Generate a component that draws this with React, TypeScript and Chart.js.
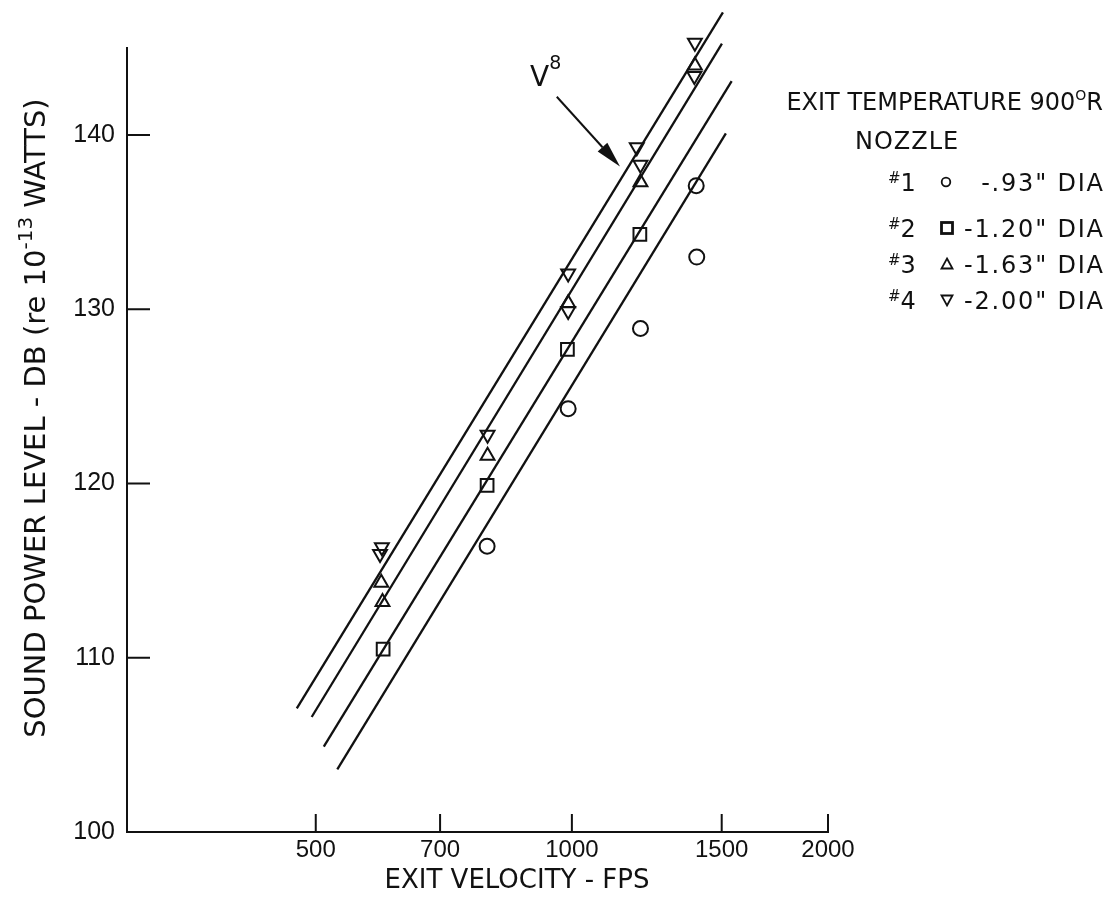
import React, { useEffect, useRef } from 'react';
import { Chart, registerables } from 'chart.js';

Chart.register(...registerables);

// ---- axis ticks ----
const xTickValues = [500, 700, 1000, 1500, 2000];
const yTickValues = [100, 110, 120, 130, 140];

// ---- measured points (exit velocity fps, sound power level dB) ----
const nozzle1Velocity = [795, 990, 1204, 1400, 1402];
const nozzle1Level = [116.4, 124.3, 128.9, 137.1, 133.0];

const nozzle2Velocity = [600, 795, 988, 1202];
const nozzle2Level = [110.5, 119.9, 127.7, 134.3];

const nozzle3Velocity = [597, 599, 796, 990, 1204, 1395];
const nozzle3Level = [114.3, 113.2, 121.6, 130.35, 137.3, 144.0];

const nozzle4Velocity = [598, 595, 796, 990, 990, 1192, 1204, 1395, 1393];
const nozzle4Level = [116.35, 115.95, 122.8, 132.05, 129.9, 139.3, 138.3, 145.3, 143.4];

// ---- V^8 fit lines: [start, end] ----
const fitVelocity = [
  [475, 1505],
  [494.5, 1501],
  [511, 1541],
  [530, 1517],
];
const fitLevel = [
  [107.1, 147.05],
  [106.6, 145.25],
  [104.9, 143.1],
  [103.6, 140.1],
];

// ---- annotation (arrow to V^8 line) ----
const arrowTail = { x: 960, y: 142.2 };
const arrowTip = { x: 1139, y: 138.2 };
const arrowLabelAt = { x: 920, y: 143.4 };

const legendRows = [
  { num: '1', text: '-.93" DIA' },
  { num: '2', text: '-1.20" DIA' },
  { num: '3', text: '-1.63" DIA' },
  { num: '4', text: '-2.00" DIA' },
];

const INK = '#111';
const TEXT_FAMILY = '"DejaVu Sans", sans-serif';
const NUM_FAMILY = '"Liberation Sans", Arial, sans-serif';

const pts = (xs: number[], ys: number[]) => xs.map((x, i) => ({ x, y: ys[i] }));

type Run = { t: string; size: number; dy?: number; sp?: number };

function runWidth(ctx: CanvasRenderingContext2D, r: Run) {
  ctx.font = `${r.size}px ${TEXT_FAMILY}`;
  if (!r.sp) return ctx.measureText(r.t).width;
  let w = 0;
  for (const ch of r.t) w += ctx.measureText(ch).width + r.sp;
  return w - r.sp;
}

function drawRuns(ctx: CanvasRenderingContext2D, runs: Run[], x: number, baseY: number, align: 'left' | 'right' | 'center') {
  let total = 0;
  const widths = runs.map((r) => {
    const w = runWidth(ctx, r);
    total += w;
    return w;
  });
  let cx = align === 'left' ? x : align === 'right' ? x - total : x - total / 2;
  ctx.textAlign = 'left';
  ctx.textBaseline = 'alphabetic';
  runs.forEach((r, i) => {
    ctx.font = `${r.size}px ${TEXT_FAMILY}`;
    const y = baseY + (r.dy || 0);
    if (!r.sp) {
      ctx.fillText(r.t, cx, y);
    } else {
      let px = cx;
      for (const ch of r.t) {
        ctx.fillText(ch, px, y);
        px += ctx.measureText(ch).width + r.sp;
      }
    }
    cx += widths[i];
  });
}

const decorPlugin = {
  id: 'decor',
  afterDraw(chart: any) {
    const ctx: CanvasRenderingContext2D = chart.ctx;
    const xs = chart.scales.x;
    const ys = chart.scales.y;
    const { left, bottom } = chart.chartArea;
    ctx.save();
    ctx.strokeStyle = INK;
    ctx.fillStyle = INK;
    ctx.lineWidth = 2;

    // inward tick marks
    ctx.beginPath();
    xTickValues.forEach((v) => {
      const px = xs.getPixelForValue(v);
      ctx.moveTo(px, bottom);
      ctx.lineTo(px, bottom - 18);
    });
    yTickValues.forEach((v) => {
      const py = ys.getPixelForValue(v);
      ctx.moveTo(left, py);
      ctx.lineTo(left + 23, py);
    });
    ctx.stroke();

    // x title
    drawRuns(ctx, [{ t: 'EXIT VELOCITY - FPS', size: 26 }], 517, 888, 'center');

    // y title (rotated)
    ctx.save();
    ctx.translate(35, 418);
    ctx.rotate(-Math.PI / 2);
    drawRuns(
      ctx,
      [
        { t: 'SOUND POWER LEVEL - DB (re 10', size: 29 },
        { t: '-13', size: 20, dy: -13 },
        { t: ' WATTS)', size: 29 },
      ],
      0,
      10,
      'center'
    );
    ctx.restore();

    // arrow
    const tx = xs.getPixelForValue(arrowTail.x);
    const ty = ys.getPixelForValue(arrowTail.y);
    const hx = xs.getPixelForValue(arrowTip.x);
    const hy = ys.getPixelForValue(arrowTip.y);
    const ang = Math.atan2(hy - ty, hx - tx);
    const headLen = 26;
    const headHalf = 6.5;
    const bx = hx - Math.cos(ang) * headLen;
    const by = hy - Math.sin(ang) * headLen;
    ctx.beginPath();
    ctx.moveTo(tx, ty);
    ctx.lineTo(bx, by);
    ctx.stroke();
    ctx.beginPath();
    ctx.moveTo(hx, hy);
    ctx.lineTo(bx - Math.sin(ang) * headHalf, by + Math.cos(ang) * headHalf);
    ctx.lineTo(bx + Math.sin(ang) * headHalf, by - Math.cos(ang) * headHalf);
    ctx.closePath();
    ctx.fill();

    // V^8 label
    const lx = xs.getPixelForValue(arrowLabelAt.x);
    const ly = ys.getPixelForValue(arrowLabelAt.y);
    drawRuns(ctx, [{ t: 'V', size: 28 }, { t: '8', size: 19, dy: -17 }], lx - 11, ly + 10, 'left');

    // legend block
    drawRuns(
      ctx,
      [
        { t: 'EXIT TEMPERATURE 900', size: 24 },
        { t: 'O', size: 14, dy: -10 },
        { t: 'R', size: 24 },
      ],
      1103,
      110,
      'right'
    );
    drawRuns(ctx, [{ t: 'NOZZLE', size: 24, sp: 1 }], 855, 149, 'left');

    const rowY = [182, 228, 264, 300];
    legendRows.forEach((row, i) => {
      const cy = rowY[i];
      drawRuns(ctx, [{ t: '#', size: 15, dy: -8 }, { t: row.num, size: 24 }], 888, cy + 9, 'left');
      drawRuns(ctx, [{ t: row.text, size: 24, sp: 1.8 }], 1103, cy + 9, 'right');
      const mx = 947;
      ctx.beginPath();
      if (i === 0) {
        ctx.lineWidth = 1.8;
        ctx.arc(mx - 1, cy, 4.3, 0, Math.PI * 2);
        ctx.stroke();
      } else if (i === 1) {
        ctx.lineWidth = 2.8;
        ctx.strokeRect(mx - 5.5, cy - 5.5, 11, 11);
      } else if (i === 2) {
        ctx.lineWidth = 1.8;
        ctx.moveTo(mx, cy - 5.5);
        ctx.lineTo(mx + 5.5, cy + 4.5);
        ctx.lineTo(mx - 5.5, cy + 4.5);
        ctx.closePath();
        ctx.stroke();
      } else {
        ctx.lineWidth = 1.8;
        ctx.moveTo(mx, cy + 5.5);
        ctx.lineTo(mx + 5.5, cy - 4.5);
        ctx.lineTo(mx - 5.5, cy - 4.5);
        ctx.closePath();
        ctx.stroke();
      }
    });

    ctx.restore();
  },
};

function buildConfig(): any {
  const markerBase = {
    showLine: false,
    borderColor: INK,
    backgroundColor: 'rgba(0,0,0,0)',
    pointBorderColor: INK,
    pointBackgroundColor: 'rgba(0,0,0,0)',
    pointBorderWidth: 2,
    clip: false,
  };
  const markerSets = [
    { ...markerBase, label: '#1', data: pts(nozzle1Velocity, nozzle1Level), pointStyle: 'circle', pointRadius: 7.5 },
    { ...markerBase, label: '#2', data: pts(nozzle2Velocity, nozzle2Level), pointStyle: 'rect', pointRadius: 9 },
    { ...markerBase, label: '#3', data: pts(nozzle3Velocity, nozzle3Level), pointStyle: 'triangle', pointRadius: 8 },
    {
      ...markerBase,
      label: '#4',
      data: pts(nozzle4Velocity, nozzle4Level),
      pointStyle: 'triangle',
      pointRadius: 8,
      pointRotation: 180,
    },
  ];
  const lineSets = fitVelocity.map((vs, i) => ({
    label: `fit ${i + 1}`,
    data: [
      { x: vs[0], y: fitLevel[i][0] },
      { x: vs[1], y: fitLevel[i][1] },
    ],
    showLine: true,
    borderColor: INK,
    borderWidth: 2.3,
    pointRadius: 0,
    clip: false,
  }));

  return {
    type: 'scatter',
    data: { datasets: [...markerSets, ...lineSets] },
    options: {
      responsive: false,
      animation: false,
      devicePixelRatio: 1,
      events: [],
      layout: { padding: { left: 0, top: 48, right: 285, bottom: 0 } },
      plugins: { legend: { display: false }, tooltip: { enabled: false }, title: { display: false } },
      scales: {
        x: {
          type: 'logarithmic',
          position: 'bottom',
          min: 300,
          max: 2000,
          grid: { display: false, drawTicks: false, tickLength: 0 },
          border: { display: true, color: INK, width: 2 },
          ticks: {
            color: INK,
            font: { family: NUM_FAMILY, size: 24 },
            padding: 4,
            maxRotation: 0,
            autoSkip: false,
            callback: (v: any) => String(v),
          },
          afterBuildTicks: (s: any) => {
            s.ticks = xTickValues.map((v) => ({ value: v }));
          },
          afterFit: (s: any) => {
            s.height = 68;
          },
        },
        y: {
          type: 'linear',
          position: 'left',
          min: 100,
          max: 145,
          grid: { display: false, drawTicks: false, tickLength: 0 },
          border: { display: true, color: INK, width: 2 },
          ticks: {
            color: INK,
            font: { family: NUM_FAMILY, size: 25 },
            padding: 12,
            autoSkip: false,
            callback: (v: any) => String(v),
          },
          afterBuildTicks: (s: any) => {
            s.ticks = yTickValues.map((v) => ({ value: v }));
          },
          afterFit: (s: any) => {
            s.width = 127;
          },
        },
      },
    },
    plugins: [decorPlugin],
  };
}

export default function App() {
  const ref = useRef<HTMLCanvasElement>(null);
  useEffect(() => {
    const canvas = ref.current;
    if (!canvas) return;
    const chart = new Chart(canvas, buildConfig());
    return () => chart.destroy();
  }, []);
  return (
    <div style={{ position: 'absolute', left: 0, top: 0, width: 1113, height: 900, background: '#fff' }}>
      <canvas ref={ref} width={1113} height={900} style={{ display: 'block', width: 1113, height: 900 }} />
    </div>
  );
}
